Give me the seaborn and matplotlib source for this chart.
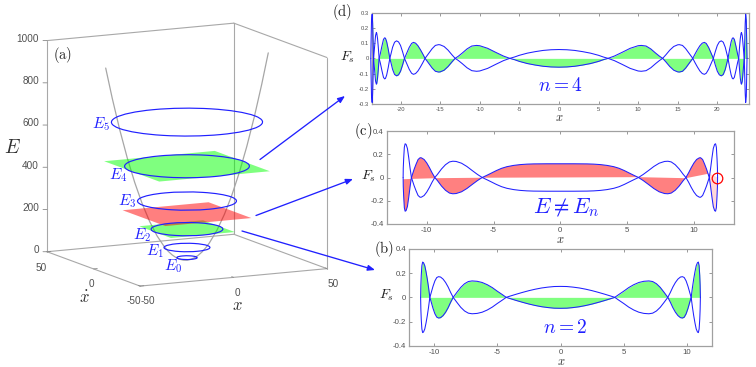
import numpy as np
import pandas as pd
import matplotlib
matplotlib.use("Agg")
import matplotlib.pyplot as plt
import seaborn as sns
from matplotlib.patches import Circle
from mpl_toolkits.mplot3d import art3d

W, H = 756, 367

# panel (a): levels read from the rings
level_names = ["$E_0$", "$E_1$", "$E_2$", "$E_3$", "$E_4$", "$E_5$"]
level_E = [12, 60, 147, 280, 445, 654]
level_r = [4.9, 11.0, 17.2, 23.7, 29.9, 36.2]

plane_E = [147, 218, 445]
plane_half = [17.1, 23.0, 29.6]
plane_color = ["#00ff00", "#ff0000", "#00ff00"]

para_x = [-43.5, -40, -36, -32, -28, -24, -20, -16, -12, -10, -8, -6, -4, -2, 0,
          2, 4, 6, 8, 10, 12, 16, 20, 24, 28, 32, 36, 40, 43.5]
para_E = [946, 800, 648, 512, 392, 288, 200, 128, 72, 50, 32, 18, 8, 2, 0,
          2, 8, 18, 32, 50, 72, 128, 200, 288, 392, 512, 648, 800, 946]

E_ticks = [0, 200, 400, 600, 800, 1000]
x_ticks_3d = [-50, 0, 50]

# panel (b), n = 2, right half of the curve
b_x = [0, 0.5, 1, 1.5, 2, 2.5, 3, 3.5, 4, 4.3,
       4.6, 5, 5.4, 5.8, 6.2, 6.6, 7, 7.3, 7.6, 7.9, 8.2, 8.5,
       8.7, 8.9, 9.1, 9.3, 9.5, 9.66, 9.8, 9.95, 10.1, 10.25, 10.35,
       10.45, 10.55, 10.65, 10.75, 10.85, 10.92, 10.98, 11.03, 11.06, 11.08]
b_g = [-.09, -.089, -.084, -.077, -.067, -.055, -.041, -.026, -.01, 0,
       .022, .05, .08, .104, .122, .132, .135, .13, .112, .082, .042, 0,
       -.04, -.085, -.122, -.15, -.167, -.17, -.163, -.135, -.09, -.035, 0,
       .08, .15, .21, .26, .285, .29, .26, .18, .1, 0]

# panel (c), E != E_n
c_x = [0, 1, 2, 2.5, 3, 3.5, 4, 4.4, 4.8, 5.2, 5.5, 5.85,
       6.2, 6.6, 7, 7.4, 7.8, 8.05, 8.3, 8.6, 8.9, 9.2, 9.4,
       9.6, 9.8, 10, 10.2, 10.4, 10.5, 10.65, 10.8, 10.95, 11.1, 11.15,
       11.25, 11.35, 11.45, 11.55, 11.62, 11.68, 11.73, 11.76, 11.77]
c_g = [.118, .118, .117, .115, .111, .104, .093, .079, .059, .036, .019, 0,
       -.026, -.06, -.095, -.123, -.138, -.14, -.134, -.11, -.073, -.027, 0,
       .04, .085, .125, .155, .169, .17, .155, .115, .07, .017, 0,
       -.08, -.17, -.25, -.285, -.29, -.26, -.16, -.08, 0]
c_nodes = [-11.77, -11.15, -9.4, -5.85, 5.85, 9.4, 11.15, 11.77]
c_base = [-.015, -.012, -.006, -.002, .003, -.006, .034, 0]
c_fill = ["#ff8080", "#ff8080", "#ff8080", "#ff8080", "#ff8080", "#ff8080", "#ffd8d8"]
c_circle_x = [11.75]
c_circle_y = [0]

# panel (d), n = 4
d_x = [0, 1, 2, 3, 4, 5, 5.6, 6.2,
       7, 8, 9, 10, 10.4, 11, 11.6, 12.2, 12.7, 13.1,
       13.5, 14, 14.5, 15, 15.2, 15.6, 16, 16.4, 16.9,
       17.2, 17.5, 17.8, 18.1, 18.37, 18.6, 18.9, 19.2, 19.5,
       19.75, 20, 20.25, 20.5, 20.75, 21, 21.2, 21.35,
       21.55, 21.75, 21.9, 22, 22.15, 22.35, 22.55, 22.7,
       22.8, 22.9, 23, 23.05, 23.15, 23.25, 23.4,
       23.45, 23.52, 23.58, 23.66, 23.72, 23.75]
d_g = [-.058, -.0565, -.052, -.044, -.034, -.02, -.009, 0,
       .015, .04, .066, .083, .085, .081, .062, .035, .014, 0,
       -.023, -.054, -.078, -.089, -.09, -.085, -.064, -.035, 0,
       .03, .058, .083, .1, .105, .098, .072, .036, 0,
       -.045, -.085, -.108, -.115, -.106, -.073, -.03, 0,
       .06, .11, .132, .135, .125, .08, .03, 0,
       -.07, -.13, -.165, -.17, -.15, -.09, 0,
       .1, .23, .29, .25, .1, 0]

bc_xticks = [-10, -5, 0, 5, 10]
bc_yticks = [-.4, -.2, 0, .2, .4]
bc_ylabels = ["-0.4", "-0.2", "0", "0.2", "0.4"]
d_xticks = [-20, -15, -10, -5, 0, 5, 10, 15, 20]
d_yticks = [-.3, -.2, -.1, 0, .1, .2, .3]
d_ylabels = ["-0.3", "-0.2", "-0.1", "0", "0.1", "0.2", "0.3"]

sns.set_theme(style="ticks")
plt.rcParams["font.family"] = ["Liberation Sans", "DejaVu Sans"]
plt.rcParams["mathtext.fontset"] = "cm"

BOX = "#a8a8a8"
TXT = "#505050"
BLUE = "#2020ff"


def rect(l, t, r, b):
    return [l / W, 1 - b / H, (r - l) / W, (b - t) / H]


def full(xh, gh):
    xh, gh = np.array(xh), np.array(gh)
    return np.r_[-xh[:0:-1], xh], np.r_[gh[:0:-1], gh]


def panel(box, xh, gh, xlim, ylim, xticks, yticks, ylabels, size):
    ax = fig.add_axes(rect(*box))
    x, g = full(xh, gh)
    df = pd.concat([pd.DataFrame({"x": x, "Fs": g, "branch": "a"}),
                    pd.DataFrame({"x": x, "Fs": -g, "branch": "b"})])
    sns.lineplot(data=df, x="x", y="Fs", units="branch", estimator=None, sort=False,
                 color=BLUE, linewidth=0.75, clip_on=False, zorder=4, ax=ax)
    ax.set_xlim(*xlim)
    ax.set_ylim(*ylim)
    ax.set_xticks(xticks)
    ax.set_xticklabels([str(t) for t in xticks])
    ax.set_yticks(yticks)
    ax.set_yticklabels(ylabels)
    ax.set_xlabel("")
    ax.set_ylabel("")
    ax.tick_params(direction="in", length=2.5, width=0.6, color="#888888", top=True, right=True,
                   labelsize=size, labelcolor=TXT, pad=2)
    for s in ax.spines.values():
        s.set_visible(True)
        s.set_color("#a0a0a0")
        s.set_linewidth(0.9)
    return ax, x, g


fig = plt.figure(figsize=(W / 100, H / 100), dpi=100)

# (a) 3D box, same view as the original
S = 353.8
cx, cy = 182.2, 159.4
a3 = fig.add_axes(rect(cx - S / 2, cy - S / 2, cx + S / 2, cy + S / 2), projection="3d",
                  proj_type="ortho", computed_zorder=False)
a3.view_init(elev=10.7, azim=-116.7)
a3.set_box_aspect((209, 207, 214.7))
a3.set_xlim(-50, 50, view_margin=0)
a3.set_ylim(-50, 50, view_margin=0)
a3.set_zlim(0, 1000, view_margin=0)
a3.set_axis_off()
a3.patch.set_visible(False)

edges = [((-50, 50), (-50, -50), (0, 0)), ((-50, -50), (-50, 50), (0, 0)),
         ((-50, 50), (50, 50), (0, 0)), ((50, 50), (-50, 50), (0, 0)),
         ((-50, -50), (50, 50), (0, 1000)), ((50, 50), (50, 50), (0, 1000)),
         ((50, 50), (-50, -50), (0, 1000)),
         ((-50, 50), (50, 50), (1000, 1000)), ((50, 50), (50, -50), (1000, 1000))]
for ex, ey, ez in edges:
    a3.plot(ex, ey, ez, color=BOX, lw=0.8, zorder=1)
for e in E_ticks:
    a3.plot([-50, -51.7], [50, 50.9], [e, e], color="#888888", lw=0.6, zorder=1)
for t in x_ticks_3d:
    a3.plot([t, t], [-50, -48], [0, 0], color="#888888", lw=0.6, zorder=1)
    a3.plot([-50, -48], [t, t], [0, 0], color="#888888", lw=0.6, zorder=1)

a3.plot(para_x, [0] * len(para_x), para_E, color="#a6a6a6", lw=0.9, zorder=2)

for e, h, col in zip(plane_E, plane_half, plane_color):
    poly = art3d.Poly3DCollection([[(-h, -h, e), (h, -h, e), (h, h, e), (-h, h, e)]],
                                  facecolor=col, edgecolor="none", alpha=0.5, zorder=3)
    a3.add_collection3d(poly)

for e, r in zip(level_E, level_r):
    ring = Circle((0, 0), r, fill=False, edgecolor=BLUE, linewidth=0.85, zorder=5)
    a3.add_patch(ring)
    art3d.pathpatch_2d_to_3d(ring, z=e, zdir="z")

# (b)
ax_b, x, g = panel((409, 248.7, 712, 346), b_x, b_g, (-12, 12), (-.4, .4),
                   bc_xticks, bc_yticks, bc_ylabels, 5.6)
ax_b.fill_between(x, 0, g, color="#80ff80", lw=0, zorder=2)

# (c)
ax_c, x, g = panel((386.7, 131, 734, 224), c_x, c_g, (-13, 13), (-.4, .4),
                   bc_xticks, bc_yticks, bc_ylabels, 5.6)
for i, col in enumerate(c_fill):
    keep = (x >= c_nodes[i]) & (x <= c_nodes[i + 1])
    ax_c.fill(np.r_[x[keep], c_nodes[i + 1], c_nodes[i]], np.r_[g[keep], c_base[i + 1], c_base[i]],
              color=col, lw=0, zorder=2)
ax_c.plot(c_circle_x, c_circle_y, "o", ms=7.6, mfc="none", mec="red", mew=0.9, zorder=5, clip_on=False)

# (d)
ax_d, x, g = panel((372, 12.7, 749, 104), d_x, d_g, (-23.6, 24), (-.3, .3),
                   d_xticks, d_yticks, d_ylabels, 4.2)
ax_d.fill_between(x, 0, g, color="#80ff80", lw=0, zorder=2)

# labels and arrows live in pixel coordinates over everything
ov = fig.add_axes([0, 0, 1, 1], facecolor="none")
ov.set_xlim(0, W)
ov.set_ylim(H, 0)
ov.axis("off")


def put(px, py, s, size=10, color="black", ha="center"):
    ov.text(px, py, s, fontsize=size, color=color, ha=ha, va="center")


for py, t in zip([250, 208, 166, 123, 81, 38.5], E_ticks):
    put(39, py, str(t), 7.2, TXT, "right")
for px, py, t in [(41, 268, "50"), (91, 284, "0"), (134, 301.5, "-50"),
                  (148, 301.5, "-50"), (237, 293, "0"), (333, 284, "50")]:
    put(px, py, t, 7.2, TXT)
put(12, 148, "$E$", 14, "#303030")
put(84, 298, r"$\dot{x}$", 12, "#303030")
put(237, 305, "$x$", 12, "#303030")

for (px, py), s in zip([(173, 266), (155, 251), (142, 235), (127, 201), (118, 175), (101, 124)], level_names):
    put(px, py, s, 11, BLUE)

put(63, 55, r"$\mathrm{(a)}$", 10.5, "#202020")
put(384, 249, r"$\mathrm{(b)}$", 10.5, "#202020")
put(363, 131, r"$\mathrm{(c)}$", 10.5, "#202020")
put(342, 12, r"$\mathrm{(d)}$", 10.5, "#202020")

put(387, 295, "$F_s$", 10, "#202020")
put(369, 176, "$F_s$", 10, "#202020")
put(348, 57, "$F_s$", 10, "#202020")
put(561, 362, "$x$", 9, "#303030")
put(560, 240, "$x$", 9, "#303030")
put(559, 118, "$x$", 9, "#303030")

put(565, 328, "$n=2$", 14, BLUE)
put(566, 208, r"$E\neq E_n$", 16, BLUE)
put(560, 86, "$n=4$", 14, BLUE)

for start, end in [((260, 159.5), (345, 96)), ((256, 215.5), (353, 179)), ((242, 231), (375, 270))]:
    ov.annotate("", xy=end, xytext=start,
                arrowprops=dict(arrowstyle="-|>,head_length=0.35,head_width=0.14", color=BLUE, lw=0.95,
                                shrinkA=0, shrinkB=0))

fig.savefig("out.png", dpi=100)
